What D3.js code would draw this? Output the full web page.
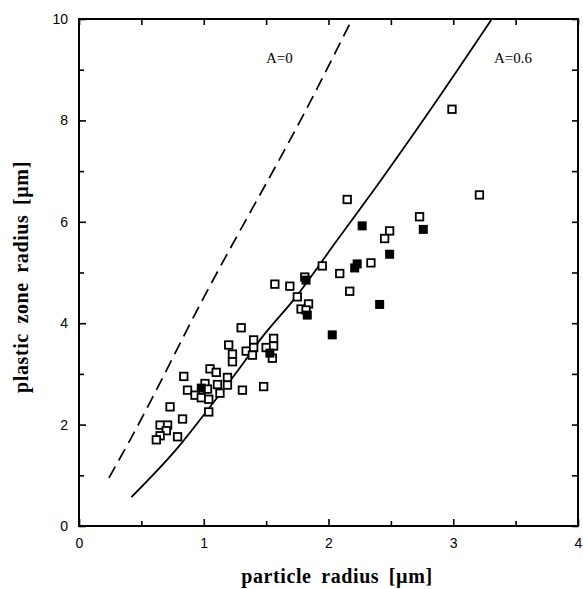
<!DOCTYPE html>
<html>
<head>
<meta charset="utf-8">
<script src="https://cdn.jsdelivr.net/npm/d3@7"></script>
<style>
  body { margin: 0; background: #fff; }
  svg { display: block; }
  .tick text { font-family: "Liberation Sans", Arial, sans-serif; font-size: 14px; fill: #000; }
  .title { font-family: "Liberation Serif", "Times New Roman", serif; font-weight: bold; font-size: 20px; letter-spacing: 0.6px; word-spacing: 4px; }
  .lbl { font-family: "Liberation Serif", "Times New Roman", serif; font-size: 15px; }
</style>
</head>
<body>
<svg id="chart" width="583" height="589"></svg>
<script>
// values
var xTicks = [0, 1, 2, 3, 4];
var yTicks = [0, 2, 4, 6, 8, 10];

// open squares [particle radius, plastic zone radius]
var openPts = [
  [2.99, 8.22], [3.21, 6.53], [2.73, 6.10], [2.15, 6.44], [2.49, 5.82], [2.45, 5.67],
  [2.34, 5.19], [2.09, 4.98], [2.17, 4.63], [1.95, 5.13], [1.81, 4.91], [1.57, 4.77],
  [1.69, 4.73], [1.75, 4.52], [1.84, 4.38], [1.78, 4.28], [1.82, 4.26], [1.30, 3.91],
  [1.40, 3.67], [1.56, 3.70], [1.34, 3.45], [1.40, 3.52], [1.39, 3.37], [1.50, 3.52],
  [1.56, 3.55], [1.55, 3.31], [1.20, 3.57], [1.23, 3.39], [1.23, 3.24], [1.05, 3.10],
  [1.10, 3.03], [0.84, 2.95], [1.19, 2.93], [1.01, 2.81], [1.11, 2.79], [1.19, 2.78],
  [0.87, 2.68], [1.03, 2.70], [1.31, 2.68], [0.93, 2.58], [1.13, 2.62], [0.98, 2.53],
  [1.04, 2.50], [0.73, 2.35], [1.04, 2.25], [0.83, 2.11], [0.65, 1.99], [0.71, 1.99],
  [0.70, 1.88], [0.65, 1.78], [0.62, 1.70], [0.79, 1.76], [1.48, 2.75]
];

// filled squares
var filledPts = [
  [0.98, 2.72], [1.53, 3.41], [1.82, 4.85], [1.83, 4.16], [2.21, 5.09], [2.23, 5.17],
  [2.27, 5.92], [2.41, 4.37], [2.49, 5.36], [2.03, 3.77], [2.76, 5.85]
];

// model curves
var curveA0 = [[0.24, 0.95], [0.41, 1.70], [0.99, 4.46], [1.89, 8.54], [2.19, 10]];
var curveA06 = [[0.42, 0.57], [0.79, 1.54], [1.0, 2.19], [1.29, 3.12], [1.46, 3.70],
  [1.74, 4.52], [2.07, 5.64], [2.42, 6.82], [2.89, 8.47], [3.31, 10]];

var svg = d3.select('#chart');
var pLeft = 79, pRight = 578, pTop = 19, pBottom = 526;

var x = d3.scaleLinear().domain([0, 4]).range([pLeft, pRight]);
var y = d3.scaleLinear().domain([0, 10]).range([pBottom, pTop]);

// minor ticks
var xMinor = d3.range(0.5, 4, 1);
var yMinor = d3.range(1, 10, 2);

function inward(g) {
  g.select('.domain').remove();
  g.selectAll('.tick line').attr('stroke', '#000').attr('stroke-width', 1.6);
}

svg.append('g').attr('transform', 'translate(0,' + pBottom + ')')
  .call(d3.axisBottom(x).tickValues(xTicks).tickFormat(d3.format('d')).tickSize(-7).tickPadding(12))
  .call(inward);
svg.append('g').attr('transform', 'translate(0,' + pBottom + ')')
  .call(d3.axisBottom(x).tickValues(xMinor).tickFormat('').tickSize(-5))
  .call(inward);
svg.append('g').attr('transform', 'translate(0,' + pTop + ')')
  .call(d3.axisTop(x).tickValues(xTicks.concat(xMinor)).tickFormat('').tickSize(-6))
  .call(inward);

svg.append('g').attr('transform', 'translate(' + pLeft + ',0)')
  .call(d3.axisLeft(y).tickValues(yTicks).tickFormat(d3.format('d')).tickSize(-7).tickPadding(11))
  .call(inward);
svg.append('g').attr('transform', 'translate(' + pLeft + ',0)')
  .call(d3.axisLeft(y).tickValues(yMinor).tickFormat('').tickSize(-5))
  .call(inward);
svg.append('g').attr('transform', 'translate(' + pRight + ',0)')
  .call(d3.axisRight(y).tickValues(yTicks.concat(yMinor)).tickFormat('').tickSize(-6))
  .call(inward);

// frame
svg.append('rect')
  .attr('x', pLeft).attr('y', pTop)
  .attr('width', pRight - pLeft).attr('height', pBottom - pTop)
  .attr('fill', 'none').attr('stroke', '#000').attr('stroke-width', 2);

var line = d3.line()
  .x(function (d) { return x(d[0]); })
  .y(function (d) { return y(d[1]); })
  .curve(d3.curveMonotoneX);

svg.append('path').datum(curveA0)
  .attr('d', line).attr('fill', 'none')
  .attr('stroke', '#000').attr('stroke-width', 1.7)
  .attr('stroke-dasharray', '13,7');

svg.append('path').datum(curveA06)
  .attr('d', line).attr('fill', 'none')
  .attr('stroke', '#000').attr('stroke-width', 1.8);

var s = 7.5;
svg.append('g').selectAll('rect').data(openPts).enter().append('rect')
  .attr('x', function (d) { return x(d[0]) - s / 2; })
  .attr('y', function (d) { return y(d[1]) - s / 2; })
  .attr('width', s).attr('height', s)
  .attr('fill', '#fff').attr('stroke', '#000').attr('stroke-width', 1.8);

var f = 9;
svg.append('g').selectAll('rect').data(filledPts).enter().append('rect')
  .attr('x', function (d) { return x(d[0]) - f / 2; })
  .attr('y', function (d) { return y(d[1]) - f / 2; })
  .attr('width', f).attr('height', f)
  .attr('fill', '#000');

// curve labels
svg.append('text').attr('class', 'lbl').attr('x', 266).attr('y', 63).text('A=0');
svg.append('text').attr('class', 'lbl').attr('x', 494).attr('y', 63).text('A=0.6');

// axis titles
svg.append('text').attr('class', 'title')
  .attr('x', 337).attr('y', 583).attr('text-anchor', 'middle')
  .text('particle radius [\u00b5m]');
svg.append('text').attr('class', 'title')
  .attr('transform', 'translate(28,277) rotate(-90)').attr('text-anchor', 'middle')
  .text('plastic zone radius [\u00b5m]');
</script>
</body>
</html>
